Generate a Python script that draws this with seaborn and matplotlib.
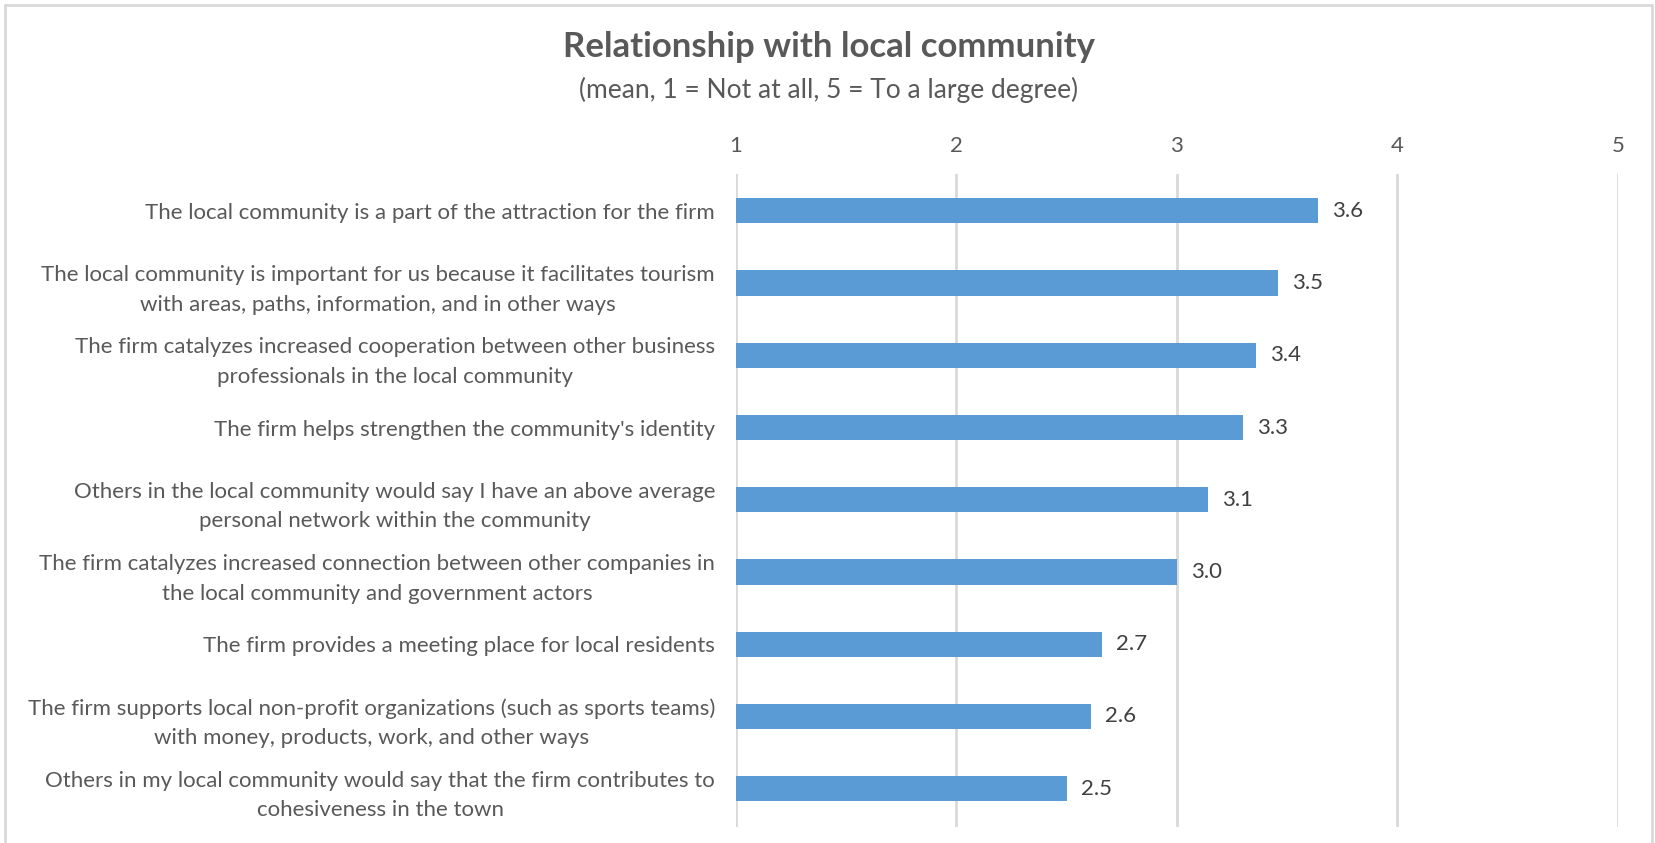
import matplotlib
matplotlib.use("Agg")
import matplotlib.pyplot as plt
from matplotlib.patches import Rectangle
import seaborn as sns
import pandas as pd

# Survey statements (top to bottom) and their mean scores
statements = [
    "The local community is a part of the attraction for the firm",
    "The local community is important for us because it facilitates tourism\nwith areas, paths, information, and in other ways",
    "The firm catalyzes increased cooperation between other business\nprofessionals in the local community",
    "The firm helps strengthen the community's identity",
    "Others in the local community would say I have an above average\npersonal network within the community",
    "The firm catalyzes increased connection between other companies in\nthe local community and government actors",
    "The firm provides a meeting place for local residents",
    "The firm supports local non-profit organizations (such as sports teams)\nwith money, products, work, and other ways",
    "Others in my local community would say that the firm contributes to\ncohesiveness in the town",
]
means = [3.64, 3.46, 3.36, 3.30, 3.14, 3.00, 2.66, 2.61, 2.50]
scale_ticks = [1, 2, 3, 4, 5]

title = "Relationship with local community"
subtitle = "(mean, 1 = Not at all, 5 = To a large degree)"

sns.set_theme(style="white")
plt.rcParams["font.family"] = ["Lato", "DejaVu Sans"]

TEXT = "#595959"
BAR = "#5B9BD5"
GRID = "#D9D9D9"

df = pd.DataFrame({"statement": statements, "mean": means})

fig = plt.figure(figsize=(16.56, 8.43), dpi=100)
ax = fig.add_axes([0.4444, 0.019, 0.5326, 0.7746])

sns.barplot(data=df, x="mean", y="statement", orient="h", color=BAR,
            width=0.35, saturation=1, ax=ax, edgecolor="none")

ax.set_xlim(1, 5)
ax.set_ylim(len(statements) - 0.47, -0.51)
ax.set_xticks(scale_ticks)
ax.set_xticklabels([str(t) for t in scale_ticks])
ax.xaxis.tick_top()
ax.tick_params(axis="x", length=0, pad=13, labelsize=16, labelcolor=TEXT)
ax.tick_params(axis="y", length=0, pad=15, labelsize=16, labelcolor=TEXT)
for lab in ax.get_yticklabels():
    lab.set_multialignment("center")
    lab.set_linespacing(1.6)

ax.set_xlabel("")
ax.set_ylabel("")
ax.grid(axis="x", color=GRID, linewidth=2)
ax.set_axisbelow(True)
for side in ax.spines.values():
    side.set_visible(False)

ax.bar_label(ax.containers[0], labels=[f"{v:.1f}" for v in means],
             padding=10, fontsize=16, color="#404040")

fig.text(0.5006, 0.944, title, ha="center", va="center",
         fontsize=25, fontweight="bold", color=TEXT)
fig.text(0.5006, 0.893, subtitle, ha="center", va="center",
         fontsize=19, color=TEXT)

# light frame around the chart area
fig.patches.append(Rectangle((0.003, -0.02), 0.9945, 1.014,
                             transform=fig.transFigure, fill=False,
                             edgecolor=GRID, linewidth=2))

fig.savefig("out.png", dpi=100, facecolor="white")
